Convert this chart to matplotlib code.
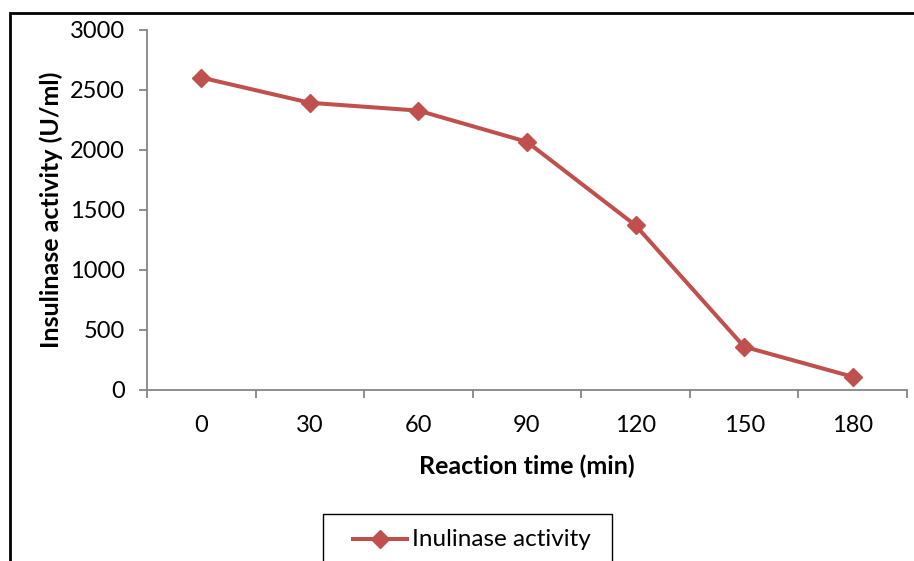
import matplotlib.pyplot as plt
from matplotlib.patches import Rectangle
from matplotlib.lines import Line2D

plt.rcParams['font.family'] = ['Lato', 'DejaVu Sans']

times = ['0', '30', '60', '90', '120', '150', '180']
activity = [2600, 2390, 2325, 2065, 1370, 360, 110]
y_ticks = [0, 500, 1000, 1500, 2000, 2500, 3000]

red = '#C0504D'
grey = '#868686'

fig = plt.figure(figsize=(9.14, 5.61), dpi=100)

# outer chart frame (extends past right and bottom edges)
fig.patches.append(Rectangle((10 / 914, -0.1), 1.2, (561 - 13) / 561 + 0.1,
                             transform=fig.transFigure, fill=False,
                             edgecolor='black', linewidth=2))

ax = fig.add_axes([147 / 914, (561 - 390) / 561, (907 - 147) / 914, (390 - 29.5) / 561])
x = list(range(len(times)))
ax.plot(x, activity, color=red, linewidth=2.9, marker='D', markersize=9.5,
        label='Inulinase activity', clip_on=False)

ax.set_xlim(-0.5, len(times) - 0.5)
ax.set_ylim(0, 3000)
ax.set_yticks(y_ticks)
ax.set_xticks(x)
ax.set_xticklabels(times)
ax.set_xticks([i - 0.5 for i in range(len(times) + 1)], minor=True)

for s in ['top', 'right']:
    ax.spines[s].set_visible(False)
for s in ['left', 'bottom']:
    ax.spines[s].set_color(grey)
    ax.spines[s].set_linewidth(1.3)

ax.tick_params(axis='y', length=6, width=1.3, color=grey, labelsize=17, pad=10)
ax.tick_params(axis='x', which='major', length=0, labelsize=17, pad=18)
ax.tick_params(axis='x', which='minor', length=6, width=1.3, color=grey)

ax.set_xlabel('Reaction time (min)', fontsize=18, fontweight='bold', labelpad=13)
ax.set_ylabel('Insulinase activity (U/ml)', fontsize=18, fontweight='bold', labelpad=5)

# legend box
fig.patches.append(Rectangle((323 / 914, -0.1), (612 - 323) / 914, (561 - 514) / 561 + 0.1,
                             transform=fig.transFigure, fill=False,
                             edgecolor='black', linewidth=1))
fig.lines.append(Line2D([353 / 914, 407 / 914], [(561 - 539) / 561] * 2,
                        transform=fig.transFigure, color=red, linewidth=2.9))
fig.lines.append(Line2D([380 / 914], [(561 - 539) / 561], transform=fig.transFigure,
                        color=red, marker='D', markersize=9.5))
fig.text(412 / 914, (561 - 539) / 561, 'Inulinase activity', fontsize=17.5,
         va='center', ha='left')

fig.savefig('out.png', dpi=100)
